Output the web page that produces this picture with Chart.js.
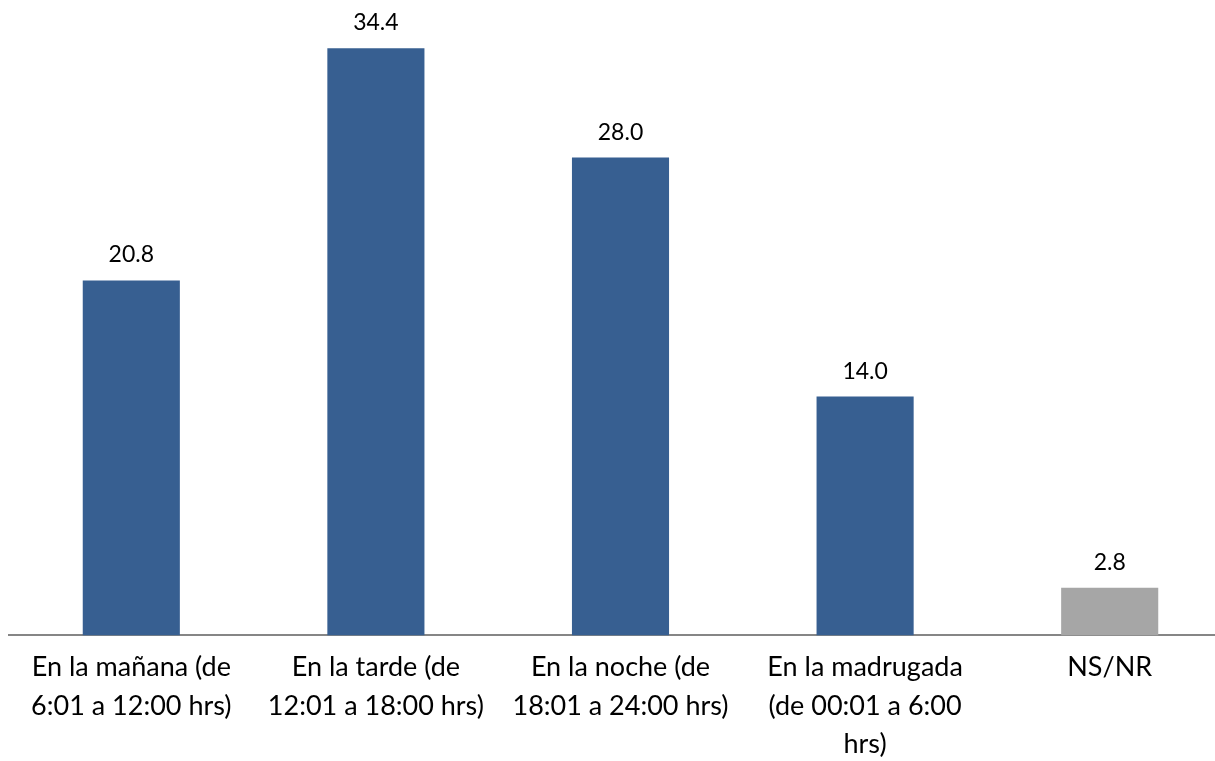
<!DOCTYPE html>
<html>
<head>
<meta charset="utf-8">
<script src="https://cdn.jsdelivr.net/npm/chart.js@4/dist/chart.umd.min.js"></script>
<style>
    html, body { margin: 0; padding: 0; background: #fff; overflow: hidden; }
    #wrap { width: 1240px; height: 769px; }
</style>
</head>
<body>
<div id="wrap"><canvas id="chart"></canvas></div>
<script>
// Chart data
const categories = [
    ['En la mañana (de', '6:01 a 12:00 hrs)'],
    ['En la tarde (de', '12:01 a 18:00 hrs)'],
    ['En la noche (de', '18:01 a 24:00 hrs)'],
    ['En la madrugada', '(de 00:01 a 6:00', 'hrs)'],
    'NS/NR'
];
const values = [20.8, 34.4, 28.0, 14.0, 2.8];
const barColors = ['#375F91', '#375F91', '#375F91', '#375F91', '#A6A6A6'];

// Value labels above each bar
const valueLabels = {
    id: 'valueLabels',
    afterDatasetsDraw(chart) {
        const ctx = chart.ctx;
        const meta = chart.getDatasetMeta(0);
        ctx.save();
        ctx.font = '23px Lato';
        ctx.fillStyle = '#000';
        ctx.textAlign = 'center';
        ctx.textBaseline = 'alphabetic';
        meta.data.forEach((bar, i) => {
            ctx.fillText(values[i].toFixed(1), bar.x, bar.y - 18);
        });
        ctx.restore();
    }
};

new Chart(document.getElementById('chart').getContext('2d'), {
    type: 'bar',
    data: {
        labels: categories,
        datasets: [{
            data: values,
            backgroundColor: barColors,
            barPercentage: 0.397,
            categoryPercentage: 1.0
        }]
    },
    options: {
        responsive: true,
        maintainAspectRatio: false,
        animation: false,
        layout: { padding: { left: 9, right: 8, top: 21, bottom: 0 } },
        plugins: {
            legend: { display: false },
            tooltip: { enabled: false }
        },
        scales: {
            x: {
                grid: { display: false },
                border: { display: true, color: '#868686', width: 2 },
                ticks: {
                    color: '#000',
                    font: { family: 'Lato', size: 27, lineHeight: 1.426 },
                    padding: 5,
                    maxRotation: 0,
                    autoSkip: false
                }
            },
            y: {
                display: false,
                min: 0,
                max: 36
            }
        }
    },
    plugins: [valueLabels]
});
</script>
</body>
</html>
